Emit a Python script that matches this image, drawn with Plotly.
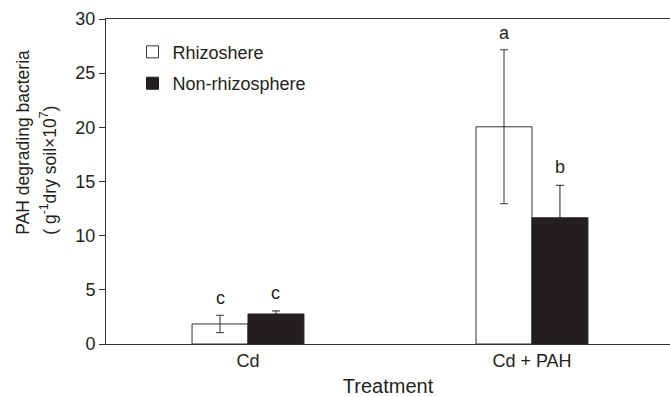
import plotly.graph_objects as go

categories = ["Cd", "Cd + PAH"]
series_names = ["Rhizoshere", "Non-rhizosphere"]
rhizo_vals = [1.85, 20.05]
rhizo_err = [0.8, 7.1]
nonrhizo_vals = [2.77, 11.65]
nonrhizo_err = [0.28, 3.0]
rhizo_letters = ["c", "a"]
nonrhizo_letters = ["c", "b"]

FONT = "Liberation Sans, Arial, sans-serif"
TXT = "#231f20"
LINE = "#333333"
DARK = "#231f20"

fig = go.Figure()
fig.add_trace(go.Bar(
    name=series_names[0], x=categories, y=rhizo_vals, legendgroup="g1",
    marker=dict(color="white", line=dict(color=LINE, width=1)),
    error_y=dict(type="data", array=rhizo_err, color=LINE, thickness=1, width=4),
))
fig.add_trace(go.Bar(
    name=series_names[1], x=categories, y=nonrhizo_vals, legendgroup="g2",
    marker=dict(color=DARK, line=dict(color=DARK, width=1)),
    error_y=dict(type="data", array=nonrhizo_err, color=DARK, thickness=1, width=4),
))

bar_w = 0.197
annotations = []
for i, c in enumerate(categories):
    annotations.append(dict(x=i - bar_w / 2, y=rhizo_vals[i] + rhizo_err[i], xref="x", yref="y",
                            text=rhizo_letters[i], showarrow=False, yanchor="bottom", yshift=5,
                            font=dict(size=18, color=TXT, family=FONT)))
    annotations.append(dict(x=i + bar_w / 2, y=nonrhizo_vals[i] + nonrhizo_err[i], xref="x", yref="y",
                            text=nonrhizo_letters[i], showarrow=False, yanchor="bottom", yshift=6,
                            font=dict(size=18, color=TXT, family=FONT)))

annotations.append(dict(x=0, y=0.3285, xref="paper", yref="paper", xanchor="center", yanchor="bottom",
                        xshift=-83, textangle=-90, showarrow=False, text="PAH degrading bacteria",
                        font=dict(size=17.5, color=TXT, family=FONT)))
annotations.append(dict(x=0, y=0.3285, xref="paper", yref="paper", xanchor="center", yanchor="bottom",
                        xshift=-58, textangle=-90, showarrow=False,
                        text="( g<sup>-1</sup>dry soil\u00d710<sup>7</sup>)",
                        font=dict(size=17.5, color=TXT, family=FONT)))

fig.update_layout(
    width=670, height=397,
    margin=dict(l=106, r=0, t=19, b=53),
    paper_bgcolor="white", plot_bgcolor="white",
    barmode="group", bargap=0.606, bargroupgap=0,
    font=dict(family=FONT, size=18, color=TXT),
    showlegend=True,
    legend=dict(x=0.047, y=0.955, xanchor="left", yanchor="top", bgcolor="rgba(0,0,0,0)",
                font=dict(size=18, color=TXT, family=FONT), tracegroupgap=5,
                itemwidth=30),
    xaxis=dict(range=[-0.5, 1.486], showline=True, linecolor=LINE, linewidth=1, mirror=True,
               ticks="", showgrid=False, zeroline=False, ticklabelstandoff=0,
               tickfont=dict(size=18, color=TXT, family=FONT),
               title=dict(text="Treatment", font=dict(size=20, color=TXT, family=FONT), standoff=11)),
    yaxis=dict(range=[0, 30], dtick=5, showline=True, linecolor=LINE, linewidth=1,
               ticks="outside", ticklen=6, tickcolor=LINE, showgrid=False, zeroline=False,
               tickfont=dict(size=18, color=TXT, family=FONT)),
    annotations=annotations,
)

fig.write_html("out.html")
